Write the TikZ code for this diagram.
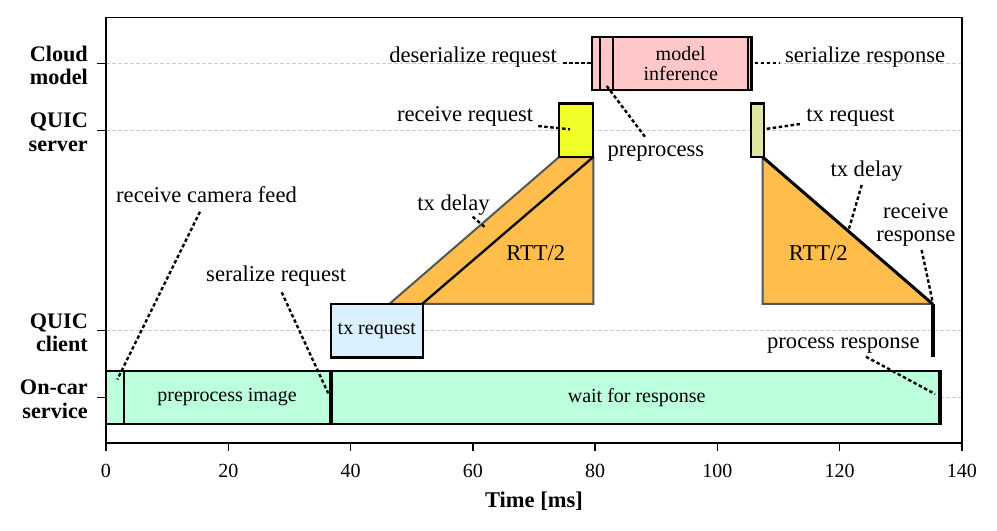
\documentclass[tikz,border=0pt]{standalone}
\usepackage{fontspec}
\setmainfont{Liberation Serif}
\definecolor{mint}{RGB}{187,255,221}
\definecolor{lblue}{RGB}{218,240,255}
\definecolor{pinkc}{RGB}{255,200,200}
\definecolor{yellowc}{RGB}{240,255,40}
\definecolor{olivec}{RGB}{224,228,166}
\definecolor{orangec}{RGB}{255,190,75}
\definecolor{edgegray}{RGB}{85,85,85}
\definecolor{gridgray}{RGB}{204,204,204}
\begin{document}
\begin{tikzpicture}[x=6.1143pt,y=66.8pt,
  box/.style={draw=black,line width=2.3pt},
  tri/.style={draw=edgegray,line width=2pt,line join=miter,fill=orangec},
  gridline/.style={draw=gridgray,line width=1pt,dash pattern=on 4pt off 2pt},
  lead/.style={draw=black,line width=2.4pt,dash pattern=on 3.5pt off 2.5pt},
  ann/.style={inner sep=0pt,font=\fontsize{22.6}{22.6}\selectfont},
  boxlbl/.style={inner sep=0pt,font=\fontsize{20}{20}\selectfont},
  lanelbl/.style={inner sep=0pt,align=right,anchor=east,font=\fontsize{22.2}{23.3}\selectfont\bfseries},
  ticklbl/.style={inner sep=0pt,font=\fontsize{20}{20}\selectfont},
  axisline/.style={draw=black,line width=1.5pt}]
\useasboundingbox (-17.337,-1.9985) rectangle (145.73,5.951);

% grid lines
\foreach \y in {0,1,4,5} \draw[gridline] (0,\y) -- (140,\y);

% orange transmission regions
\draw[tri] (46.33,1.4) -- (74.1,3.6) -- (79.7,3.6) -- (79.7,1.4) -- cycle;
\draw[line width=2.3pt] (51.7,1.4) -- (79.7,3.6);
\draw[tri] (107.4,3.6) -- (107.4,1.4) -- (135.2,1.4) -- cycle;
\draw[line width=3pt,line cap=round] (107.4,3.6) -- (135.2,1.4);

% On-car service
\draw[box,fill=mint] (0,-0.4) rectangle (3.0,0.4);
\draw[box,fill=mint] (3.0,-0.4) rectangle (36.6,0.4);
\draw[box,fill=mint] (36.6,-0.4) rectangle (37.0,0.4);
\draw[box,fill=mint] (37.0,-0.4) rectangle (136.3,0.4);
\draw[box,fill=mint] (136.3,-0.4) rectangle (136.6,0.4);
\node[boxlbl] (tPreImg) at (19.8,0) {preprocess image};
\node[boxlbl] (tWait) at (86.8,0) {wait for response};

% QUIC client
\draw[box,fill=lblue] (36.8,0.6) rectangle (51.8,1.4);
\node[boxlbl] (tTxC) at (44.3,1) {tx request};
\fill[black] (135.0,0.6) rectangle (135.65,1.4);

% QUIC server
\draw[box,fill=yellowc] (74.04,3.6) rectangle (79.7,4.4);
\draw[box,fill=olivec] (105.48,3.6) rectangle (107.66,4.4);

% Cloud model
\draw[box,fill=pinkc] (79.53,4.6) rectangle (80.8,5.4);
\draw[box,fill=pinkc] (80.8,4.6) rectangle (82.97,5.4);
\draw[box,fill=pinkc] (82.97,4.6) rectangle (105.0,5.4);
\draw[box,fill=pinkc] (105.0,4.6) rectangle (105.6,5.4);
\node[boxlbl,align=center] (tModel) at (94,5) {model\\inference};

% frame and ticks
\draw[axisline] (0,-0.681) rectangle (140,5.686);
\foreach \t in {0,20,...,140} {
  \draw[axisline] (\t,-0.681) -- ++(0,-8pt);
  \node[ticklbl] (tick\t) at (\t,-1.096) {\t};
}
\foreach \y in {0,1,4,5} \draw[axisline] (0,\y) -- ++(-9pt,0);
\node[ticklbl,anchor=base,font=\fontsize{22.5}{22.5}\selectfont\bfseries] (xlabel) at (70.0,-1.644) {Time [ms]};

% lane labels
\node[lanelbl] (lnCloud) at (-2.944,4.97) {Cloud\\model};
\node[lanelbl] (lnServer) at (-2.944,3.97) {QUIC\\server};
\node[lanelbl] (lnClient) at (-2.944,0.97) {QUIC\\client};
\node[lanelbl] (lnCar) at (-2.944,-0.025) {On-car\\service};

% annotations
\node[ann,anchor=base east] (lDes) at (73.77,5.012) {deserialize request};
\node[ann,anchor=base west] (lSerResp) at (111.05,5.012) {serialize response};
\node[ann,anchor=base east] (lRcvReq) at (69.9,4.129) {receive request};
\node[ann,anchor=base west] (lPre) at (82.0,3.605) {preprocess};
\node[ann,anchor=base west] (lTxS) at (114.5,4.129) {tx request};
\node[ann,anchor=base] (lTxD1) at (56.84,2.807) {tx delay};
\node[ann,anchor=base] (lRTT1) at (70.3,2.058) {RTT/2};
\node[ann,anchor=base] (lTxD2) at (124.4,3.316) {tx delay};
\node[ann,anchor=base] (lRTT2) at (116.5,2.058) {RTT/2};
\node[ann,align=center] (lRcvResp) at (132.45,2.58) {receive\\response};
\node[ann,anchor=base west] (lCam) at (1.636,2.922) {receive camera feed};
\node[ann,anchor=base west] (lSerReq) at (16.36,1.734) {seralize request};
\node[ann,anchor=base west] (lProc) at (108.1,0.734) {process response};

% leader end points
\coordinate (camA) at (15.37,2.781);   \coordinate (camB) at (1.85,0.27);
\coordinate (serA) at (28.74,1.575);   \coordinate (serB) at (36.34,0.063);
\coordinate (procA) at (124.3,0.611);  \coordinate (procB) at (135.6,0.052);
\coordinate (rrA) at (133.4,2.208);    \coordinate (rrB) at (135.2,1.434);
\coordinate (td2A) at (123.6,3.181);   \coordinate (td2B) at (121.5,2.52);
\coordinate (td1A) at (59.97,2.707);   \coordinate (td1B) at (61.98,2.548);
\coordinate (rqA) at (70.7,4.064);     \coordinate (rqB) at (75.9,4.015);
\coordinate (desA) at (74.8,5.012);    \coordinate (desB) at (79.4,5.012);
\coordinate (srA) at (106.14,5.012);   \coordinate (srB) at (110.2,5.012);
\coordinate (ppA) at (88.15,3.904);    \coordinate (ppB) at (81.78,4.678);
\coordinate (txsA) at (113.5,4.094);   \coordinate (txsB) at (107.5,4.015);

\foreach \a/\b in {camA/camB,serA/serB,procA/procB,rrA/rrB,td2A/td2B,td1A/td1B,rqA/rqB,desA/desB,srA/srB,ppA/ppB,txsA/txsB}
  \draw[lead] (\a) -- (\b);
\end{tikzpicture}
\end{document}
